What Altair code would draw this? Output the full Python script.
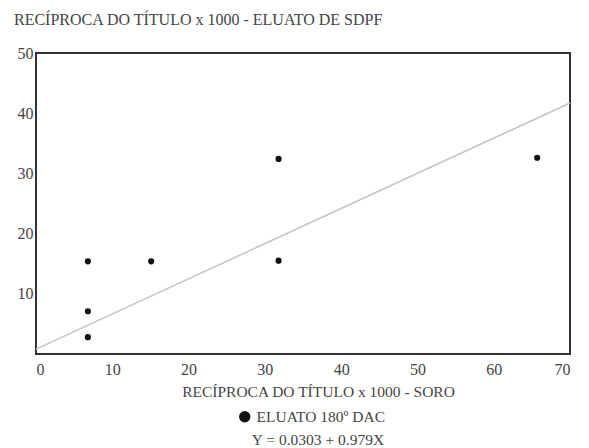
import altair as alt
import pandas as pd

# Data
x_vals = [6.8, 6.8, 6.8, 15.1, 31.8, 31.8, 65.7]
y_vals = [15.4, 7.1, 2.8, 15.4, 32.4, 15.5, 32.6]
series_name = "ELUATO 180º DAC"
line_x = [0, 70]
line_y = [0.8, 41.7]
x_ticks = [0, 10, 20, 30, 40, 50, 60, 70]
y_ticks = [10, 20, 30, 40, 50]
equation = "Y = 0.0303 + 0.979X"
title_text = "RECÍPROCA DO TÍTULO x 1000 - ELUATO DE SDPF"
x_title = "RECÍPROCA DO TÍTULO x 1000 - SORO"

FONT = "Liberation Serif"
TXT = "#444444"

pts = pd.DataFrame({"x": x_vals, "y": y_vals, "serie": [series_name] * len(x_vals)})
reg = pd.DataFrame({"x": line_x, "y": line_y})
eq = pd.DataFrame({"t": [equation]})

xscale = alt.Scale(domain=[0, 70], nice=False)
yscale = alt.Scale(domain=[0, 50], nice=False)

xaxis = alt.Axis(values=x_ticks, tickSize=0, domain=False, grid=False,
                 labelFontSize=16, labelColor=TXT, labelFont=FONT, labelPadding=7,
                 title=x_title, titleFont=FONT, titleFontSize=15.5, titleFontWeight="normal",
                 titleColor=TXT, titleX=282, titleY=37, titleBaseline="middle")
yaxis = alt.Axis(values=y_ticks, tickSize=0, domain=False, grid=False,
                 labelFontSize=16, labelColor=TXT, labelFont=FONT, labelPadding=3,
                 title=None)

line = alt.Chart(reg).mark_line(color="#c4c4c4", strokeWidth=1.5).encode(
    x=alt.X("x:Q", scale=xscale, axis=xaxis),
    y=alt.Y("y:Q", scale=yscale, axis=yaxis),
)

points = alt.Chart(pts).mark_circle(size=38, opacity=1).encode(
    x=alt.X("x:Q", scale=xscale),
    y=alt.Y("y:Q", scale=yscale),
    color=alt.Color("serie:N", scale=alt.Scale(range=["#111111"]),
                    legend=alt.Legend(title=None, orient="none", legendX=201, legendY=356,
                                      labelFont=FONT, labelFontSize=15.5, labelColor=TXT,
                                      symbolSize=130, symbolType="circle",
                                      symbolFillColor="#111111", symbolStrokeWidth=0,
                                      labelOffset=4, padding=0)),
)

eqtext = alt.Chart(eq).mark_text(font=FONT, fontSize=15.5, color=TXT, align="center",
                                 baseline="middle").encode(
    text="t:N", x=alt.value(282), y=alt.value(387)
)

chart = alt.layer(line, points, eqtext).properties(
    width=534, height=301,
    background="white",
    autosize=alt.AutoSizeParams(type="none"),
    padding={"left": 28, "top": 45, "right": 11, "bottom": 94},
    title=alt.TitleParams(title_text, anchor="start", frame="group", dx=-22, offset=17,
                          font=FONT, fontSize=16, fontWeight="normal", color=TXT),
).configure_view(stroke="#333333", strokeWidth=2)

chart.save("out.html", embed_options={"renderer": "svg", "actions": False})
